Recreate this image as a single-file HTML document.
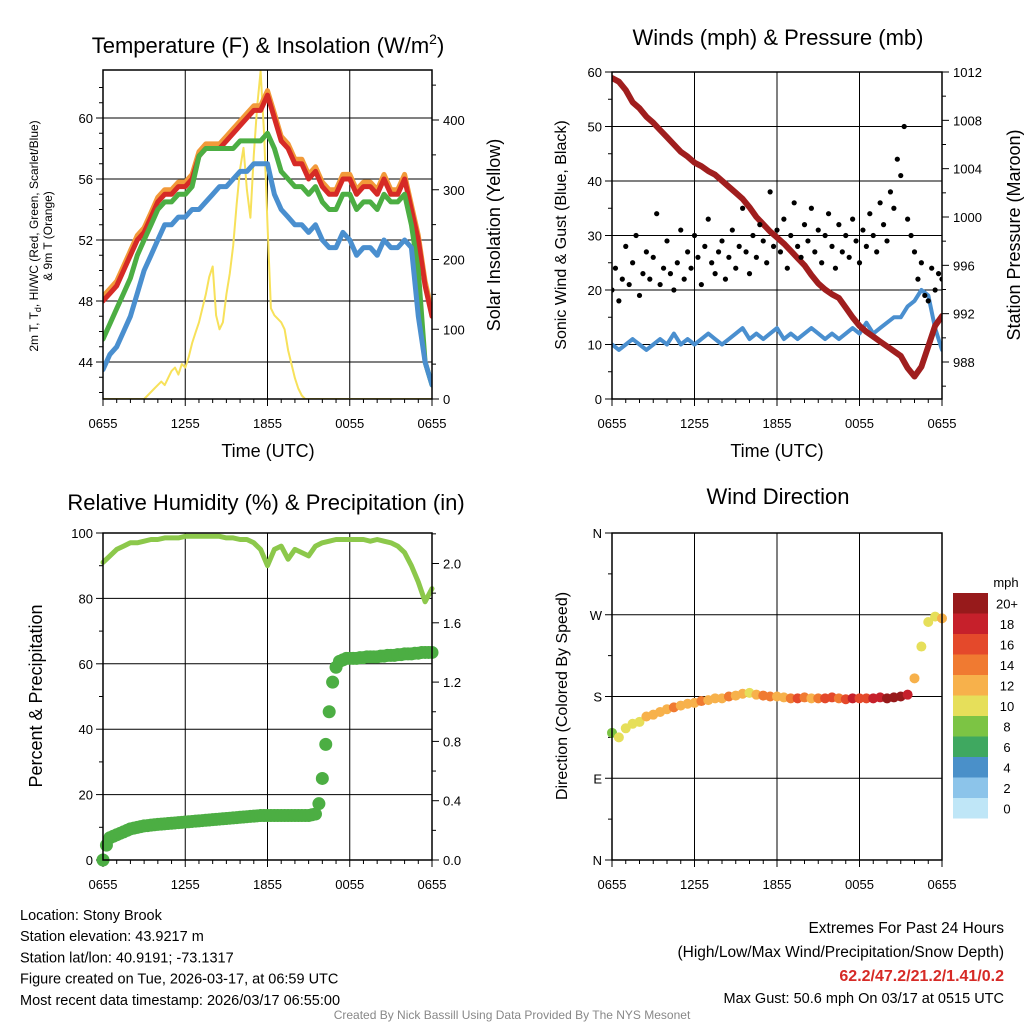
<!DOCTYPE html>
<html><head><meta charset="utf-8">
<style>
body{margin:0;background:#fff;}
svg{display:block;font-family:"Liberation Sans",sans-serif;}
</style></head>
<body>
<svg id="svg" width="1024" height="1024" viewBox="0 0 1024 1024">
<rect width="1024" height="1024" fill="#fff"/>
</svg>
<script>
// ---------- DATA ----------
const xTickLabels = ["0655","1255","1855","0055","0655"];
const tempTicks = [44,48,52,56,60];
const solarTicks = [0,100,200,300,400];
const windTicks = [0,10,20,30,40,50,60];
const presTicks = [988,992,996,1000,1004,1008,1012];
const rhTicks = [0,20,40,60,80,100];
const precipTicks = [0.0,0.4,0.8,1.2,1.6,2.0];
const dirTicks = ["N","E","S","W","N"];
const cbLabels = ["0","2","4","6","8","10","12","14","16","18","20+"];
const cbColors = ["#bfe6f7","#8cc4ea","#4a90c9","#3fa860","#7cc444","#e6df5a","#f7b14b","#f07a31","#e4492b","#c6202b","#971a1b"];

const tempRed = [48,48.5,49,50,51,52,52.5,53.5,54.5,55,55,55.5,55.5,56,57.5,58,58,58,58.5,59,59.5,60,60.5,60.5,61.5,60,58.5,58,57,57,56,56.5,55.5,55,55,56,56,55,55.5,55.5,55,56,55,55,56,54,52,49,47];
const tempGreen = [45.5,46.5,47.5,48.5,49.5,51,52,53,54,54.5,54.5,55,55,55.5,57.5,58,58,58,58,58,58.5,58.5,58.5,58.5,59,58,56.5,56,55.5,55.5,55,55.5,54.5,54,54,55,55,54,54.5,54.5,54,55,54.5,54.5,55,53,50,44,42.5];
const tempBlue = [43.5,44.5,45,46,47,48.5,50,51,52,53,53,53.5,53.5,54,54,54.5,55,55.5,55.5,56,56.5,56.5,57,57,57,55,54,53.5,53,53,52.5,53,52,51.5,51.5,52.5,52,51,51.5,51.5,51,52,51.5,51.5,52,51.5,47,44,42.5];
const solar = [0,0,0,0,0,0,0,0,0,0,0,0,0,5,10,15,20,25,20,30,40,45,35,50,45,60,80,95,110,130,150,175,190,120,100,110,150,180,220,280,330,360,300,260,350,420,470,380,250,130,120,115,110,100,70,50,30,15,5,0,0,0,0,0,0,0,0,0,0,0,0,0,0,0,0,0,0,0,0,0,0,0,0,0,0,0,0,0,0,0,0,0,0,0,0,0,0];

const windSpeed = [10,9,10,11,10,9,10,11,10,12,10,11,10,11,12,11,10,11,12,13,11,12,11,12,13,11,12,11,12,13,12,11,12,11,12,13,12,14,12,13,14,15,15,17,18,20,19,13,9];
const windGust = [20,24,18,22,28,21,25,30,19,23,27,22,26,34,21,24,29,23,20,25,31,22,27,24,30,26,21,28,33,25,23,27,29,22,26,31,24,28,35,27,23,30,26,32,29,25,38,28,31,27,33,24,30,36,28,26,32,29,35,27,31,25,30,34,28,24,32,27,30,26,33,29,25,31,28,34,30,27,36,32,29,38,35,44,41,50,33,30,27,22,25,19,18,24,20,23,22];
const pressure = [1011.5,1011.2,1010.5,1009.5,1009,1008.3,1007.8,1007.2,1006.6,1006,1005.4,1005,1004.5,1004.2,1003.8,1003.5,1003,1002.5,1002,1001.5,1000.8,1000,999.4,998.8,998.3,997.8,997.2,996.6,996,995.2,994.5,994,993.6,993.3,992.5,991.7,991,990.5,990.1,989.7,989.3,988.9,988.5,987.5,986.8,987.6,989.3,991,991.8];

const rh = [91,93,95,96,97,97,97.5,98,98,98.5,98.5,98.5,99,99,99,99,99,99,98.5,98.5,98,98,97,95,90,95,96,92,95,94,93,96,97,97.5,98,98,98,98,98,97.5,98,97.5,97,96,94,90,85,79,83];
const precip = [0,0.1,0.15,0.16,0.17,0.18,0.19,0.2,0.21,0.215,0.22,0.225,0.23,0.232,0.235,0.238,0.24,0.242,0.244,0.246,0.248,0.25,0.252,0.254,0.256,0.258,0.26,0.262,0.264,0.266,0.268,0.27,0.272,0.274,0.276,0.278,0.28,0.282,0.284,0.286,0.288,0.29,0.292,0.294,0.296,0.298,0.3,0.3,0.3,0.3,0.3,0.3,0.3,0.3,0.3,0.3,0.3,0.3,0.3,0.3,0.3,0.305,0.31,0.38,0.55,0.78,1.0,1.2,1.3,1.34,1.35,1.36,1.36,1.36,1.36,1.365,1.365,1.37,1.37,1.37,1.37,1.375,1.375,1.38,1.38,1.38,1.385,1.385,1.39,1.39,1.39,1.395,1.395,1.4,1.4,1.4,1.4];

const windDir = [140,135,145,150,152,158,160,163,166,168,170,172,173,175,176,178,178,180,181,183,184,182,181,180,180,179,178,178,179,178,178,178,179,178,177,178,178,178,178,179,178,179,180,182,200,235,262,268,266];
const windDirSpeed = [8,9,10,9,10,11,12,11,12,13,12,11,12,13,12,11,12,13,12,11,10,12,13,14,12,11,14,15,13,12,14,16,15,13,16,17,16,15,18,17,19,20,19,18,12,10,9,10,11];

// ---------- HELPERS ----------
const NS="http://www.w3.org/2000/svg";
const svg=document.getElementById("svg");
function mk(tag,attrs,parent){const e=document.createElementNS(NS,tag);for(const k in attrs)e.setAttribute(k,attrs[k]);(parent||svg).appendChild(e);return e;}
function txt(x,y,s,size,anchor,parent,extra){const t=mk("text",Object.assign({x:x,y:y,"font-size":size,"text-anchor":anchor||"middle",fill:"#000"},extra||{}),parent);t.textContent=s;return t;}
function lin(d0,d1,p0,p1){return v=>p0+(v-d0)/(d1-d0)*(p1-p0);}

function frame(name){
  const g=mk("g",{});
  
  
  return g;
}
function vgrid(g,L,T,R,B){
  const xs=lin(0,24,L,R);
  [6,12,18].forEach(h=>{const l=mk("line",{x1:xs(h),x2:xs(h),y1:T,y2:B,stroke:"#000","stroke-width":1},g);
    });
  xTickLabels.forEach((s,i)=>{const x=xs(i*6);
    mk("line",{x1:x,x2:x,y1:B,y2:B+7,stroke:"#000"},g);
    const t=txt(x,B+29,s,13,"middle",g);
    });
  for(let h=1;h<24;h++){if(h%6)mk("line",{x1:xs(h),x2:xs(h),y1:B,y2:B+4,stroke:"#000"},g);}
}
function border(g,L,T,R,B){
  const r=mk("rect",{x:L,y:T,width:R-L,height:B-T,fill:"none",stroke:"#000","stroke-width":1.5},g);
  
}
function leftAxis(g,ticks,ys,L,R,grid,labels,minor){
  ticks.forEach((v,i)=>{const y=ys(v);
    if(grid){const l=mk("line",{x1:L,x2:R,y1:y,y2:y,stroke:"#000"},g);}
    mk("line",{x1:L-7,x2:L,y1:y,y2:y,stroke:"#000"},g);
    const t=txt(L-10,y+5,labels?labels[i]:String(v),13,"end",g);
    });
  if(minor)minor.forEach(y=>mk("line",{x1:L-4,x2:L,y1:y,y2:y,stroke:"#000"},g));
}
function rightAxis(g,ticks,ys,R,fmt,minor){
  ticks.forEach(v=>{const y=ys(v);
    mk("line",{x1:R,x2:R+7,y1:y,y2:y,stroke:"#000"},g);
    const t=txt(R+11,y+5,fmt?fmt(v):String(v),13,"start",g);
    });
  if(minor)minor.forEach(y=>mk("line",{x1:R,x2:R+4,y1:y,y2:y,stroke:"#000"},g));
}
function poly(g,vals,xs,ys,color,w,name){
  const step=24/(vals.length-1);
  const d=vals.map((v,i)=>(i?"L":"M")+xs(i*step).toFixed(1)+","+ys(v).toFixed(1)).join("");
  const p=mk("path",{d:d,fill:"none",stroke:color,"stroke-width":w,"stroke-linejoin":"round","stroke-linecap":"round"},g);
  
  return p;
}
function speedColor(s){let i=Math.round(s/2);if(i>10)i=10;if(i<0)i=0;return cbColors[i];}

// ---------- PANEL 1 ----------
(function(){
  const L=103,T=70,R=432,B=399;
  const g=frame("temperature-panel");
  const xs=lin(0,24,L,R), ys=lin(44,60,362,118), ysol=lin(0,400,399,120);
  mk("clipPath",{id:"c1"},g);
  mk("rect",{x:L,y:T,width:R-L,height:B-T},document.getElementById("c1"));
  vgrid(g,L,T,R,B);
  const minor=[];for(let v=42;v<=62;v++)if(v%4)minor.push(ys(v));
  leftAxis(g,tempTicks,ys,L,R,true,null,minor);
  const sminor=[];for(let v=50;v<=450;v+=100)sminor.push(ysol(v));
  rightAxis(g,solarTicks,ysol,R,null,sminor);
  const cg=mk("g",{"clip-path":"url(#c1)"},g);
  poly(cg,solar,xs,ysol,"#f7e15a",2,"solar-insolation-line");
  poly(cg,tempRed.map(v=>v+0.3),xs,ys,"#f29a3a",5,"9m-temperature-line");
  poly(cg,tempRed,xs,ys,"#d62a26",5,"2m-temperature-line");
  poly(cg,tempGreen,xs,ys,"#4cae43",5,"dewpoint-line");
  poly(cg,tempBlue,xs,ys,"#4a8fcf",5,"heat-index-windchill-line");
  border(g,L,T,R,B);
  const t=txt(268,53,"Temperature (F) & Insolation (W/m",22,"middle",g);
  const ts=mk("tspan",{"font-size":14,dy:-9},t);ts.textContent="2";
  const ts2=mk("tspan",{dy:9},t);ts2.textContent=")";
  const xt=txt(268,457,"Time (UTC)",18,"middle",g);
  const yt=mk("text",{transform:"translate(38,236) rotate(-90)","font-size":12,"text-anchor":"middle"},g);
  
  yt.innerHTML='2m T, T<tspan font-size="9" dy="3">d</tspan><tspan dy="-3">, HI/WC (Red, Green, Scarlet/Blue)</tspan>';
  const yt2=txt(0,0,"& 9m T (Orange)",12,"middle",g,{transform:"translate(52,236) rotate(-90)"});
  
  const rt=txt(0,0,"Solar Insolation (Yellow)",18,"middle",g,{transform:"translate(500,235) rotate(-90)"});
  
})();

// ---------- PANEL 2 ----------
(function(){
  const L=612,T=72,R=942,B=399;
  const g=frame("wind-pressure-panel");
  const xs=lin(0,24,L,R), ys=lin(0,60,399,72), yp=lin(988,1012,362,72);
  mk("clipPath",{id:"c2"},g);
  mk("rect",{x:L,y:T,width:R-L,height:B-T},document.getElementById("c2"));
  vgrid(g,L,T,R,B);
  const minor=[];for(let v=5;v<60;v+=10)minor.push(ys(v));
  leftAxis(g,windTicks,ys,L,R,true,null,minor);
  const pminor=[];for(let v=986;v<=1012;v+=2)if(v%4)pminor.push(yp(v));
  rightAxis(g,presTicks,yp,R,null,pminor);
  const cg=mk("g",{"clip-path":"url(#c2)"},g);
  poly(cg,windSpeed,xs,ys,"#4a8fcf",4,"sonic-wind-line");
  poly(cg,pressure,xs,yp,"#a01e1e",6,"station-pressure-line");
  const step=24/(windGust.length-1);
  windGust.forEach((v,i)=>{const c=mk("circle",{cx:xs(i*step),cy:ys(v),r:2.6,fill:"#000"},cg);
    });
  border(g,L,T,R,B);
  const t=txt(778,45,"Winds (mph) & Pressure (mb)",22,"middle",g);
  const xt=txt(777,457,"Time (UTC)",18,"middle",g);
  const yt=txt(0,0,"Sonic Wind & Gust (Blue, Black)",16,"middle",g,{transform:"translate(566,235) rotate(-90)"});
  
  const rt=txt(0,0,"Station Pressure (Maroon)",18,"middle",g,{transform:"translate(1020,235) rotate(-90)"});
  
})();

// ---------- PANEL 3 ----------
(function(){
  const L=103,T=533,R=432,B=860;
  const g=frame("humidity-precip-panel");
  const xs=lin(0,24,L,R), ys=lin(0,100,860,533), yp=lin(0,2.0,860,563.5);
  mk("clipPath",{id:"c3"},g);
  mk("rect",{x:L-8,y:T,width:R-L+16,height:B-T+8},document.getElementById("c3"));
  vgrid(g,L,T,R,B);
  const minor=[];for(let v=10;v<100;v+=20)minor.push(ys(v));
  leftAxis(g,rhTicks,ys,L,R,true,null,minor);
  const pminor=[];for(let v=0.2;v<2.2;v+=0.4)pminor.push(yp(v));
  rightAxis(g,precipTicks,yp,R,v=>v.toFixed(1),pminor);
  const cg=mk("g",{"clip-path":"url(#c3)"},g);
  poly(cg,rh,xs,ys,"#8cc84b",5,"relative-humidity-line");
  const step=24/(precip.length-1);
  precip.forEach((v,i)=>{const c=mk("circle",{cx:xs(i*step),cy:yp(v),r:6.5,fill:"#4cae43"},cg);
    });
  border(g,L,T,R,B);
  const t=txt(266,510,"Relative Humidity (%) & Precipitation (in)",22,"middle",g);
  const yt=txt(0,0,"Percent & Precipitation",18,"middle",g,{transform:"translate(42,696) rotate(-90)"});
  
})();

// ---------- PANEL 4 ----------
(function(){
  const L=612,T=533,R=942,B=860;
  const g=frame("wind-direction-panel");
  const xs=lin(0,24,L,R), ys=lin(0,360,860,533);
  vgrid(g,L,T,R,B);
  leftAxis(g,[0,90,180,270,360],ys,L,R,true,dirTicks,[45,135,225,315].map(ys));
  const step=24/(windDir.length-1);
  windDir.forEach((v,i)=>{const c=mk("circle",{cx:xs(i*step),cy:ys(v),r:5,fill:speedColor(windDirSpeed[i])},g);
    });
  border(g,L,T,R,B);
  const t=txt(778,504,"Wind Direction",22,"middle",g);
  const yt=txt(0,0,"Direction (Colored By Speed)",16,"middle",g,{transform:"translate(567,696) rotate(-90)"});
  
  const cb=mk("g",{},g);
  
  const bx=953,bw=35,top=593,bh=20.5;
  cbColors.forEach((c,i)=>{const y=top+(10-i)*bh;
    const r=mk("rect",{x:bx,y:y,width:bw,height:bh,fill:c},cb);
    
    const l=txt(1007,y+bh/2+5,cbLabels[i],13,"middle",cb);
    });
  const u=txt(1006,587,"mph",13,"middle",cb);
})();

// ---------- FOOTER ----------
(function(){
  const g=mk("g",{});
  
  ["Location: Stony Brook","Station elevation: 43.9217 m","Station lat/lon: 40.9191; -73.1317","Figure created on Tue, 2026-03-17, at 06:59 UTC","Most recent data timestamp: 2026/03/17 06:55:00"]
   .forEach((s,i)=>txt(20,920+i*21.2,s,14.5,"start",g));
  const g2=mk("g",{});
  
  txt(1004,933,"Extremes For Past 24 Hours",15.5,"end",g2);
  txt(1004,957,"(High/Low/Max Wind/Precipitation/Snow Depth)",15.5,"end",g2);
  txt(1004,981,"62.2/47.2/21.2/1.41/0.2",16,"end",g2,{fill:"#d62a26","font-weight":"bold"});
  txt(1004,1003,"Max Gust: 50.6 mph On 03/17 at 0515 UTC",14.5,"end",g2);
  const c=txt(512,1019,"Created By Nick Bassill Using Data Provided By The NYS Mesonet",12,"middle");
  c.setAttribute('fill','#888');
  
  
})();
</script>
</body></html>
